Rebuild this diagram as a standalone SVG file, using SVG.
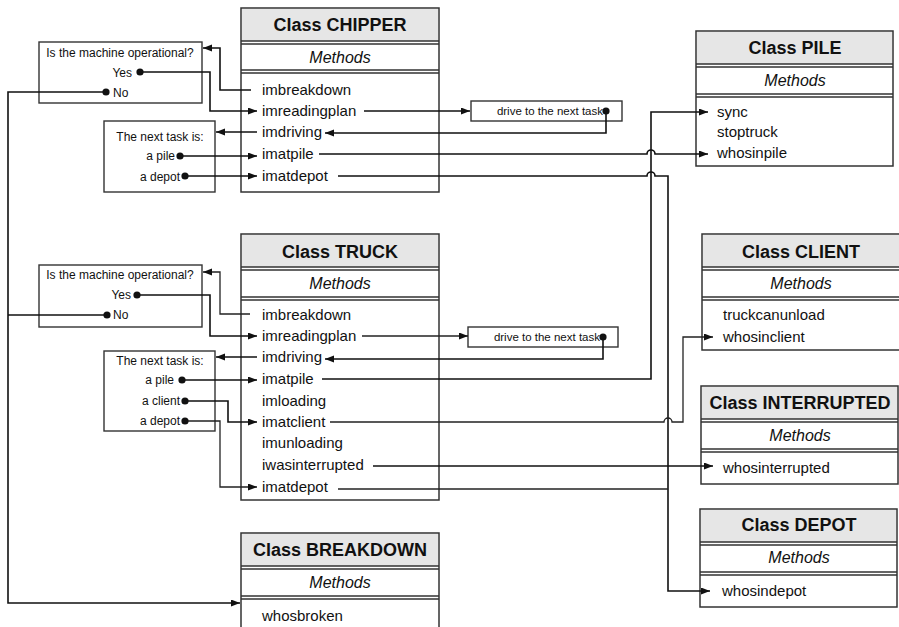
<svg xmlns="http://www.w3.org/2000/svg" width="899" height="627" viewBox="0 0 899 627">
<defs>
<marker id="ar" markerUnits="userSpaceOnUse" markerWidth="10" markerHeight="8" refX="9" refY="3.5" orient="auto"><path d="M0,0 L9,3.5 L0,7 z" fill="#111"/></marker>
<style>
.box{fill:#fff;stroke:#333;stroke-width:1.5}
.hdr{fill:#e6e6e6;stroke:none}
.sep{stroke:#333;stroke-width:1.3;fill:none}
.ttl{font-family:"Liberation Sans",Arial,sans-serif;font-size:18px;font-weight:bold;fill:#111;text-anchor:middle}
.mth{font-family:"Liberation Sans",Arial,sans-serif;font-size:16px;font-style:italic;fill:#111;text-anchor:middle}
.itm{font-family:"Liberation Sans",Arial,sans-serif;font-size:15px;fill:#111}
.sm{font-family:"Liberation Sans",Arial,sans-serif;font-size:12px;fill:#111}
.smr{font-family:"Liberation Sans",Arial,sans-serif;font-size:12px;fill:#111;text-anchor:end}
.smc{font-family:"Liberation Sans",Arial,sans-serif;font-size:12px;fill:#111;text-anchor:middle}
.dr{font-family:"Liberation Sans",Arial,sans-serif;font-size:11.5px;fill:#111;text-anchor:end}
.sbox{fill:#fff;stroke:#333;stroke-width:1.4}
.ln{fill:none;stroke:#111;stroke-width:1.6}
.lt{fill:none;stroke:#222;stroke-width:1.3}
.dot{fill:#111}
</style>
</defs>

<!-- CHIPPER -->
<g id="chipper">
<rect class="box" x="241" y="8" width="198" height="184"/>
<rect class="hdr" x="242" y="9" width="196" height="32"/>
<path class="sep" d="M241,41H439M241,44H439M241,70H439M241,73H439"/>
<text class="ttl" x="340" y="31">Class CHIPPER</text>
<text class="mth" x="340" y="63">Methods</text>
<text class="itm" x="262" y="95">imbreakdown</text>
<text class="itm" x="262" y="116">imreadingplan</text>
<text class="itm" x="262" y="137">imdriving</text>
<text class="itm" x="262" y="159">imatpile</text>
<text class="itm" x="262" y="181">imatdepot</text>
</g>

<g id="chipper-operational">
<rect class="sbox" x="39" y="42" width="163" height="61"/>
<text class="smc" x="120" y="57">Is the machine operational?</text>
<text class="smr" x="132" y="77">Yes</text>
<text class="sm" x="113" y="97">No</text>
</g>

<g id="chipper-nexttask">
<rect class="sbox" x="104" y="121" width="111" height="71"/>
<text class="smc" x="160" y="141">The next task is:</text>
<text class="smr" x="175" y="160">a pile</text>
<text class="smr" x="180" y="181">a depot</text>
</g>

<g id="chipper-drive">
<rect class="sbox" x="471" y="101" width="151" height="20"/>
<text class="dr" x="603" y="115">drive to the next task</text>
</g>

<!-- PILE -->
<g id="pile">
<rect class="box" x="696" y="31" width="197" height="135"/>
<rect class="hdr" x="697" y="32" width="195" height="32"/>
<path class="sep" d="M696,64H893M696,67H893M696,94H893M696,97H893"/>
<text class="ttl" x="795" y="54">Class PILE</text>
<text class="mth" x="795" y="86">Methods</text>
<text class="itm" x="717" y="117">sync</text>
<text class="itm" x="717" y="137">stoptruck</text>
<text class="itm" x="717" y="158">whosinpile</text>
</g>

<!-- TRUCK -->
<g id="truck">
<rect class="box" x="241" y="234" width="198" height="266"/>
<rect class="hdr" x="242" y="235" width="196" height="32"/>
<path class="sep" d="M241,267H439M241,270H439M241,297H439M241,300H439"/>
<text class="ttl" x="340" y="258">Class TRUCK</text>
<text class="mth" x="340" y="289">Methods</text>
<text class="itm" x="262" y="320">imbreakdown</text>
<text class="itm" x="262" y="341">imreadingplan</text>
<text class="itm" x="262" y="362">imdriving</text>
<text class="itm" x="262" y="384">imatpile</text>
<text class="itm" x="262" y="406">imloading</text>
<text class="itm" x="262" y="427">imatclient</text>
<text class="itm" x="262" y="448">imunloading</text>
<text class="itm" x="262" y="470">iwasinterrupted</text>
<text class="itm" x="262" y="492">imatdepot</text>
</g>

<g id="truck-operational">
<rect class="sbox" x="39" y="265" width="163" height="62"/>
<text class="smc" x="120" y="279">Is the machine operational?</text>
<text class="smr" x="131" y="299">Yes</text>
<text class="sm" x="113" y="319">No</text>
</g>

<g id="truck-nexttask">
<rect class="sbox" x="104" y="351" width="111" height="80"/>
<text class="smc" x="160" y="365">The next task is:</text>
<text class="smr" x="174" y="384">a pile</text>
<text class="smr" x="180" y="405">a client</text>
<text class="smr" x="180" y="425">a depot</text>
</g>

<g id="truck-drive">
<rect class="sbox" x="468" y="327" width="150" height="20"/>
<text class="dr" x="600" y="341">drive to the next task</text>
</g>

<!-- CLIENT -->
<g id="client">
<rect class="box" x="702" y="234" width="205" height="116"/>
<rect class="hdr" x="703" y="235" width="203" height="32"/>
<path class="sep" d="M702,267H907M702,270H907M702,297H907M702,300H907"/>
<text class="ttl" x="801" y="258">Class CLIENT</text>
<text class="mth" x="801" y="289">Methods</text>
<text class="itm" x="723" y="320">truckcanunload</text>
<text class="itm" x="723" y="342">whosinclient</text>
</g>

<!-- INTERRUPTED -->
<g id="interrupted">
<rect class="box" x="701" y="386" width="197" height="98"/>
<rect class="hdr" x="702" y="387" width="195" height="32"/>
<path class="sep" d="M701,419H898M701,422H898M701,449H898M701,452H898"/>
<text class="ttl" x="800" y="409">Class INTERRUPTED</text>
<text class="mth" x="800" y="441">Methods</text>
<text class="itm" x="723" y="473">whosinterrupted</text>
</g>

<!-- DEPOT -->
<g id="depot">
<rect class="box" x="700" y="509" width="197" height="98"/>
<rect class="hdr" x="701" y="510" width="195" height="32"/>
<path class="sep" d="M700,542H897M700,545H897M700,572H897M700,575H897"/>
<text class="ttl" x="799" y="531">Class DEPOT</text>
<text class="mth" x="799" y="563">Methods</text>
<text class="itm" x="722" y="596">whosindepot</text>
</g>

<!-- BREAKDOWN -->
<g id="breakdown">
<rect class="box" x="241" y="533" width="198" height="110"/>
<rect class="hdr" x="242" y="534" width="196" height="32"/>
<path class="sep" d="M241,566H439M241,569H439M241,596H439M241,599H439"/>
<text class="ttl" x="340" y="556">Class BREAKDOWN</text>
<text class="mth" x="340" y="588">Methods</text>
<text class="itm" x="262" y="621">whosbroken</text>
</g>

<!-- Connectors -->
<g id="connectors">
<!-- chipper -->
<path class="ln" d="M251,90H220V48H203" marker-end="url(#ar)"/>
<path class="ln" d="M140,72H210V111H257" marker-end="url(#ar)"/>
<path class="ln" d="M364,111H470" marker-end="url(#ar)"/>
<path class="ln" d="M606,111V133H325" marker-end="url(#ar)"/>
<path class="ln" d="M257,132H216" marker-end="url(#ar)"/>
<path class="ln" d="M180,156H257" marker-end="url(#ar)"/>
<path class="ln" d="M185,176H257" marker-end="url(#ar)"/>
<path class="ln" d="M319,154H647a4,4 0 0 1 8,0H708" marker-end="url(#ar)"/>
<path class="ln" d="M338,176H647a4,4 0 0 1 8,0H668V591H710" marker-end="url(#ar)"/>
<path class="ln" d="M106,92H8V603H240" marker-end="url(#ar)"/>
<!-- truck -->
<path class="ln" d="M107,315H8"/>
<path class="lt" d="M250,314H220V272H203" marker-end="url(#ar)"/>
<path class="ln" d="M137,295H210V336H257" marker-end="url(#ar)"/>
<path class="lt" d="M362,336H468" marker-end="url(#ar)"/>
<path class="ln" d="M603,337V359H325" marker-end="url(#ar)"/>
<path class="ln" d="M257,357H216" marker-end="url(#ar)"/>
<path class="ln" d="M182,380H257" marker-end="url(#ar)"/>
<path class="ln" d="M185,401H228V422H257" marker-end="url(#ar)"/>
<path class="lt" d="M185,421H220V487H257" marker-end="url(#ar)"/>
<path class="ln" d="M322,379H651V112H708" marker-end="url(#ar)"/>
<path class="lt" d="M330,422H664a4,4 0 0 1 8,0H683V337H713" marker-end="url(#ar)"/>
<path class="ln" d="M373,466H713" marker-end="url(#ar)"/>
<path class="lt" d="M338,489H668"/>
<!-- dots -->
<circle class="dot" cx="140" cy="72" r="3.6"/>
<circle class="dot" cx="106" cy="92" r="3.6"/>
<circle class="dot" cx="180" cy="156" r="3.6"/>
<circle class="dot" cx="185" cy="176" r="3.6"/>
<circle class="dot" cx="606" cy="111" r="3.6"/>
<circle class="dot" cx="137" cy="295" r="3.6"/>
<circle class="dot" cx="107" cy="315" r="3.6"/>
<circle class="dot" cx="182" cy="380" r="3.6"/>
<circle class="dot" cx="185" cy="401" r="3.6"/>
<circle class="dot" cx="185" cy="421" r="3.6"/>
<circle class="dot" cx="603" cy="337" r="3.6"/>
</g>
</svg>
